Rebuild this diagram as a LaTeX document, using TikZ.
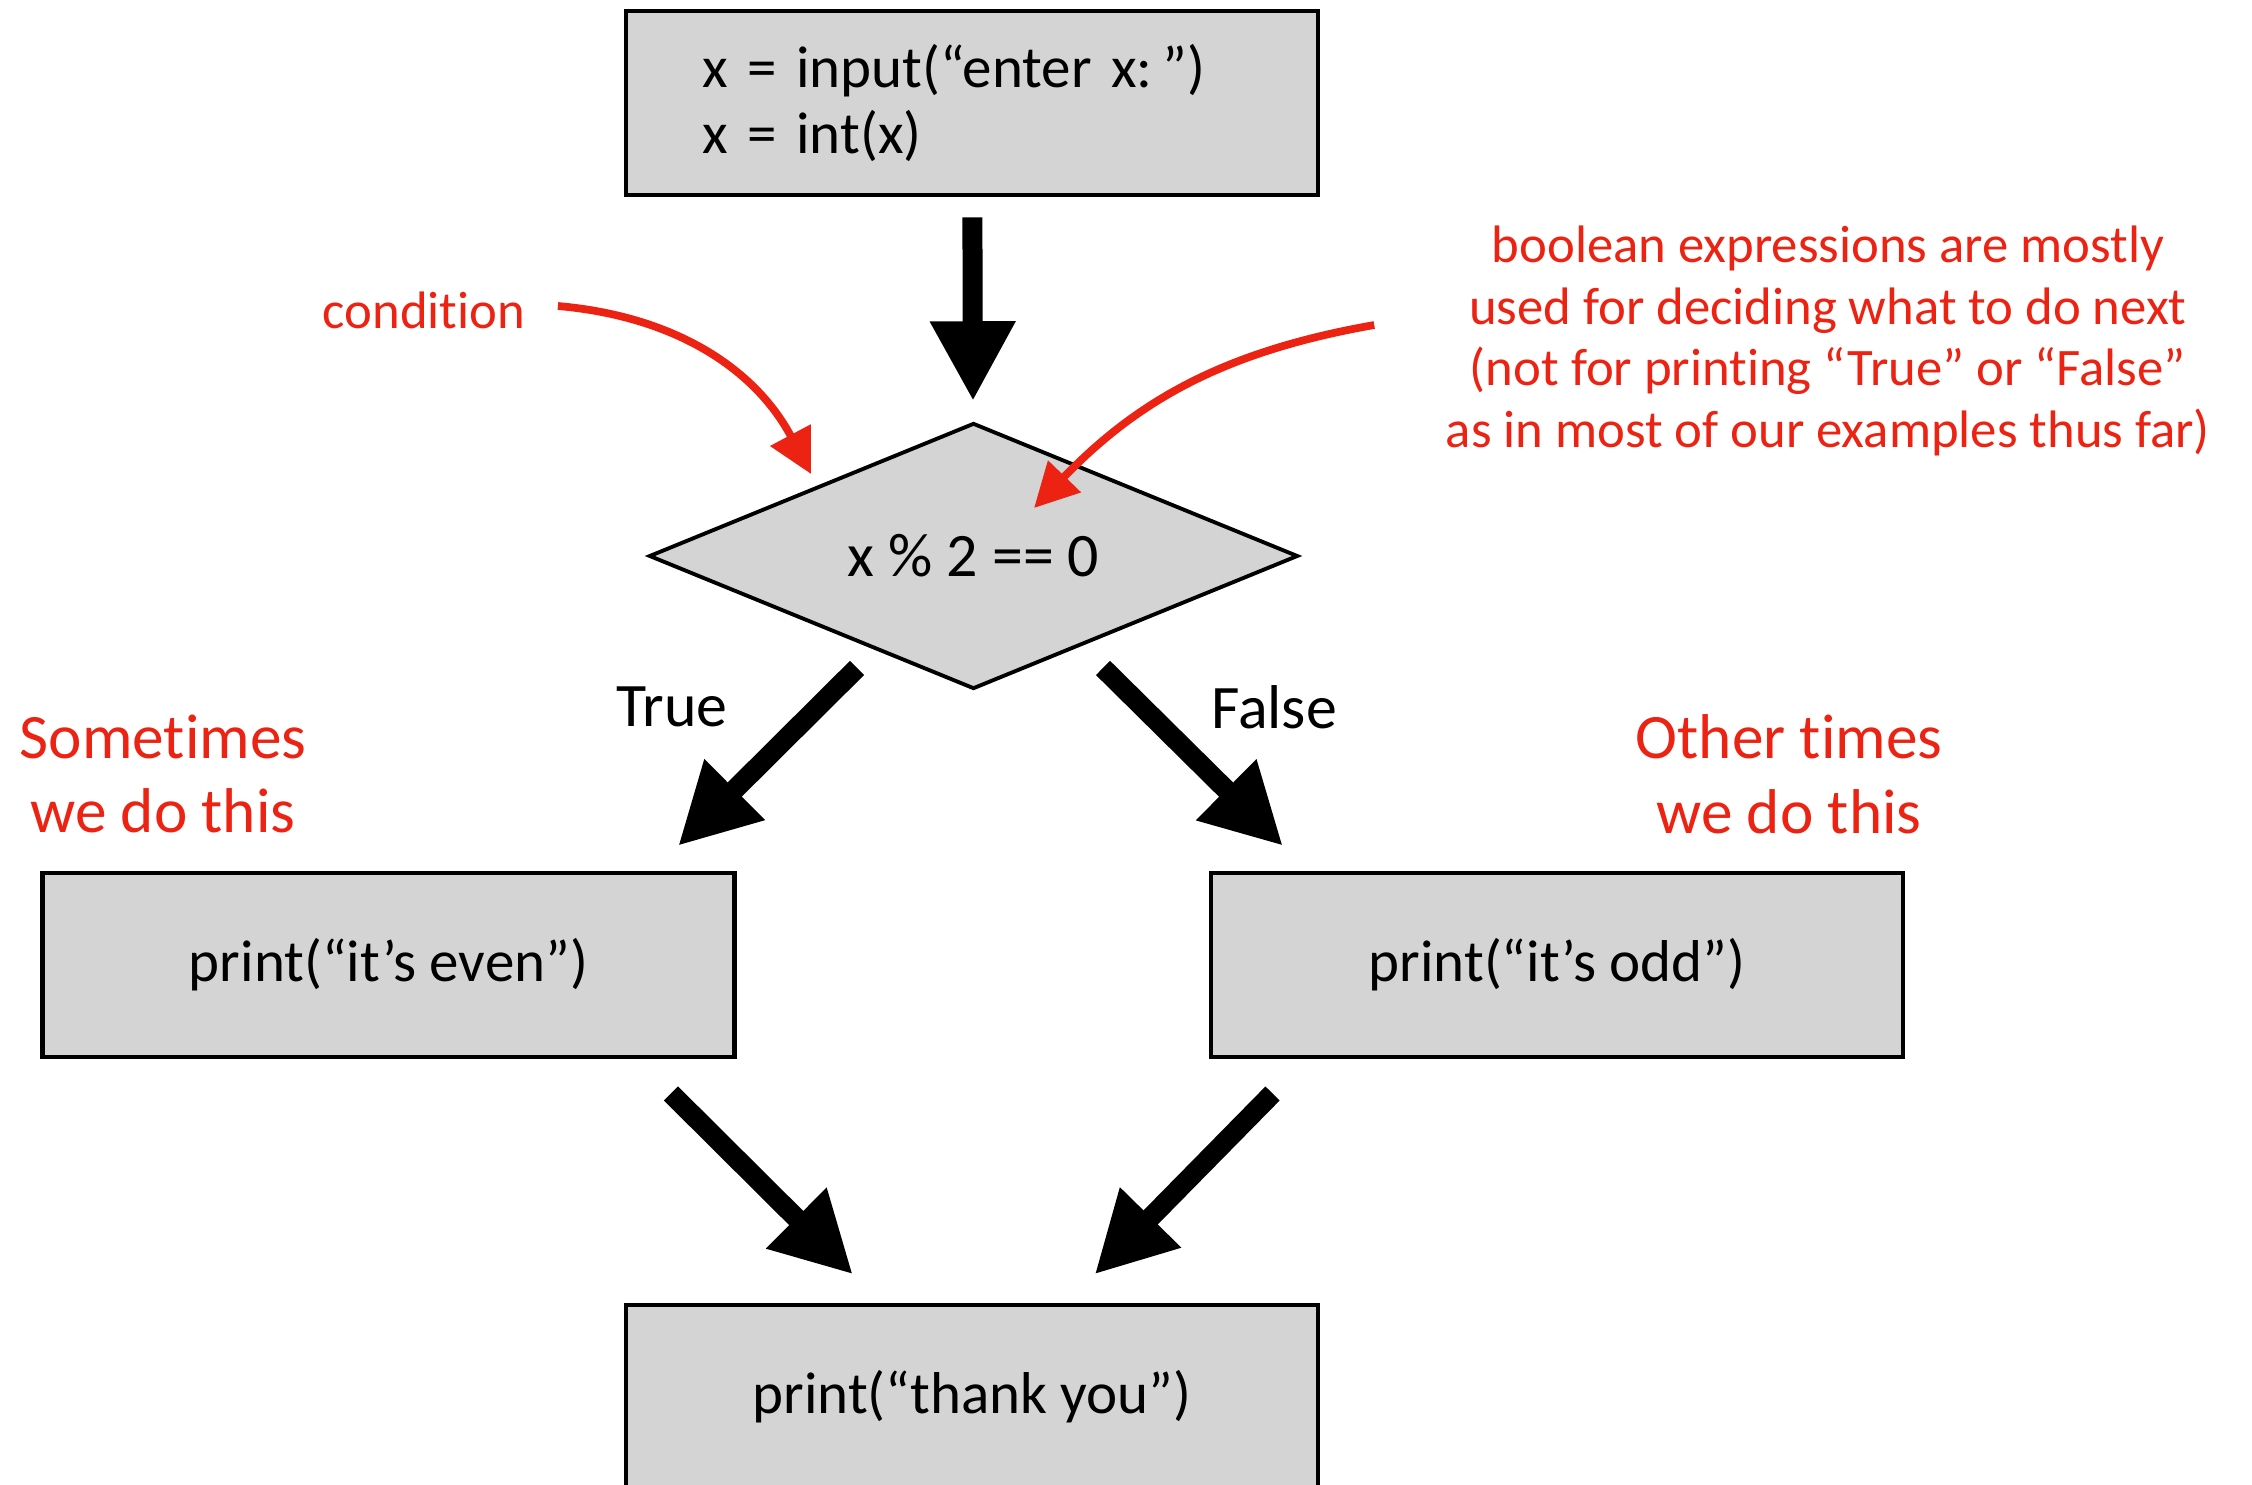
\documentclass[tikz,border=0pt]{standalone}
\usepackage{fontspec}
\setmainfont[RawFeature={-liga;-clig;-dlig;-calt;-rlig;-ccmp}]{Carlito}
\usetikzlibrary{shapes.geometric,arrows.meta}
\definecolor{boxgray}{RGB}{212,212,212}
\definecolor{notered}{RGB}{236,34,18}
\tikzset{
  box/.style={draw, line width=1.4pt, fill=boxgray, minimum width=6.92cm, minimum height=1.84cm, font=\fontsize{16.8}{18.8}\selectfont},
  test/.style={diamond, shape aspect=2.44, draw, line width=1.1pt, fill=boxgray, minimum width=6.49cm, minimum height=2.66cm, inner sep=0pt, font=\fontsize{17.6}{19}\selectfont},
  branch/.style={inner sep=0pt, font=\fontsize{17.6}{20}\selectfont},
  flow/.style={line width=0.2cm, -{Triangle[width=0.8cm,length=0.8cm]}},
  note/.style={text=notered, inner sep=0pt, align=center, font=\fontsize{15}{17.6}\selectfont},
  notearrow/.style={draw=notered, line width=2.2pt, -{Triangle[width=0.44cm,length=0.44cm]}},
}
\begin{document}
\begin{tikzpicture}
    \clip (0,0) rectangle (22.52,-14.84);
    %input
    \node[box, text width=5.4cm, align=left] (read) at (9.72,-1.03) {x = input(“enter x:\,”)\\x = int(x)};
    %condizione
    \node[test] (dia) at (9.735,-5.56) {x \% 2 == 0};
    \draw[flow, shorten <=0.2cm, shorten >=0.2cm] (read) -- (dia);
    %rami
    \node[box] (even) at (3.885,-9.65) {print(“it’s even”)};
    \node[box] (odd) at (15.57,-9.65) {print(“it’s odd”)};
    \draw[flow] ([xshift=-1.165cm,yshift=0.23cm]dia.south) -- ++(-1.79,-1.78);
    \draw[flow] ([xshift=1.295cm,yshift=0.23cm]dia.south) -- ++(1.80,-1.78);
    \node[branch] (yes) at (6.72,-7.07) {True};
    \node[branch] (no) at (12.74,-7.07) {False};
    %fine
    \node[box] (thanks) at (9.72,-13.97) {print(“thank you”)};
    \draw[flow] ([xshift=-0.66cm,yshift=-0.34cm]even.south east) -- ++(1.82,-1.81);
    \draw[flow] ([xshift=0.64cm,yshift=-0.34cm]odd.south west) -- ++(-1.78,-1.81);
    %annotazioni
    \node[note] (cond) at (4.24,-3.10) {condition};
    \node[note] (bool) at (18.28,-3.41) {boolean expressions are mostly\\used for deciding what to do next\\(not for printing “True” or “False”\\as in most of our examples thus far)};
    \node[note, font=\fontsize{18}{21.3}\selectfont] (some) at (1.63,-7.74) {Sometimes\\we do this};
    \node[note, font=\fontsize{18}{21.3}\selectfont] (other) at (17.89,-7.74) {Other times\\we do this};
    \coordinate (condtip) at (8.11,-4.74);
    \coordinate (booltip) at (10.34,-5.08);
    \draw[notearrow] ([xshift=0.32cm,yshift=0.04cm]cond.east) to[out=-5,in=118] (condtip);
    \draw[notearrow] ([xshift=-0.71cm,yshift=0.16cm]bool.west) to[out=190,in=46] (booltip);
  \end{tikzpicture}
\end{document}
